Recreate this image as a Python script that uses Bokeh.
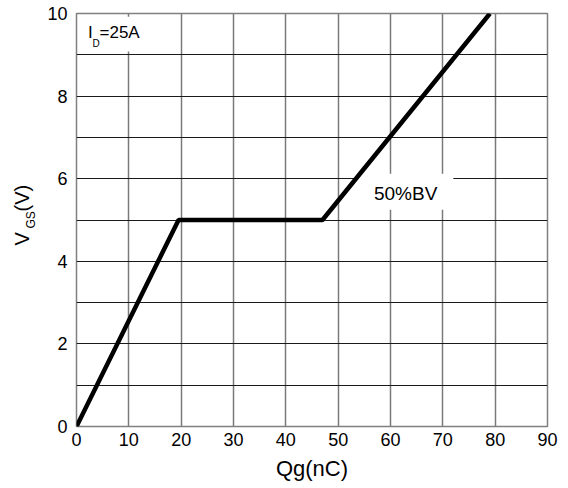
import math
from bokeh.plotting import figure
from bokeh.models import Range1d, FixedTicker, Label
from bokeh.layouts import row
from bokeh.core.properties import value
from bokeh.embed import file_html
from bokeh.resources import INLINE

# data
qg_nc = [0, 19.5, 47, 79]
vgs_v = [0, 5, 5, 10]
x_ticks = [0, 10, 20, 30, 40, 50, 60, 70, 80, 90]
y_ticks = [0, 2, 4, 6, 8, 10]
y_grid = [0, 1, 2, 3, 4, 5, 6, 7, 8, 9, 10]
curve_label = "50%BV"
cond_main = "I"
cond_sub = "D"
cond_rest = "=25A"
ylab_main = "V"
ylab_sub = "GS"
ylab_unit = "(V)"

FONT = "Liberation Sans"
LW = 40   # width of the strip holding the y-axis title
H = 488
TOP, BOT = 13, 62

p = figure(width=560 - LW, height=H, output_backend="svg", toolbar_location=None,
           x_range=Range1d(0, 90), y_range=Range1d(0, 10),
           min_border_left=76 - LW, min_border_right=13, min_border_top=TOP, min_border_bottom=BOT)

p.outline_line_color = "#808080"
p.outline_line_width = 1.5

p.xaxis.ticker = FixedTicker(ticks=x_ticks)
p.yaxis.ticker = FixedTicker(ticks=y_ticks)
p.xgrid.ticker = FixedTicker(ticks=x_ticks)
p.ygrid.ticker = FixedTicker(ticks=y_grid)
p.xgrid.grid_line_color = "#7a7a7a"
p.xgrid.grid_line_width = 1.5
p.ygrid.grid_line_color = "#1a1a1a"
p.ygrid.grid_line_width = 1.2

for ax in (p.xaxis[0], p.yaxis[0]):
    ax.axis_line_color = None
    ax.major_tick_line_color = None
    ax.minor_tick_line_color = None
    ax.major_tick_out = 0
    ax.major_tick_in = 0
    ax.minor_tick_out = 0
    ax.major_label_text_font = FONT
    ax.major_label_text_font_size = "18px"
    ax.major_label_text_color = "black"
p.yaxis.major_label_standoff = 9
p.xaxis.major_label_standoff = 6

p.xaxis.axis_label = "Qg(nC)"
p.xaxis.axis_label_text_font = FONT
p.xaxis.axis_label_text_font_size = "22px"
p.xaxis.axis_label_text_font_style = "normal"
p.xaxis.axis_label_text_color = "black"
p.xaxis.axis_label_standoff = 7

# white boxes behind annotations
p.quad(left=[0.3], right=[16], bottom=[9.08], top=[9.92], fill_color="white", line_color=None)
p.quad(left=[53.3], right=[72], bottom=[5.25], top=[6.12], fill_color="white", line_color=None)

p.line(qg_nc, vgs_v, line_color="black", line_width=4.5)

def lab(x, y, t, size, align="left"):
    p.add_layout(Label(x=x, y=y, text=t, text_font=FONT, text_font_size=size,
                       text_align=align, text_baseline="middle", text_color="black"))

lab(62.9, 5.64, curve_label, "19px", align="center")
lab(2.2, 9.54, cond_main, "17px")
lab(3.05, 9.28, cond_sub, "10px")
lab(4.4, 9.54, cond_rest, "17px")

# strip on the left carrying the rotated y-axis title V_GS(V);
# its frame is aligned with the main frame, so its y range spans the same pixels
s = figure(width=LW, height=H, output_backend="svg", toolbar_location=None,
           x_range=Range1d(0, LW), y_range=Range1d(BOT, H - TOP),
           x_axis_location=None, y_axis_location=None, title=None,
           min_border_left=0, min_border_right=0, min_border_top=TOP, min_border_bottom=BOT)
s.grid.visible = False
s.outline_line_color = None
a = math.pi / 2
s.text(x=[21], y=[H - 245], text=[ylab_main], angle=a, text_font=value(FONT), text_font_size="20px",
       text_align="left", text_baseline="middle", text_color="black")
s.text(x=[30], y=[H - 228], text=[ylab_sub], angle=a, text_font=value(FONT), text_font_size="12px",
       text_align="left", text_baseline="middle", text_color="black")
s.text(x=[21], y=[H - 211], text=[ylab_unit], angle=a, text_font=value(FONT), text_font_size="20px",
       text_align="left", text_baseline="middle", text_color="black")

layout = row(s, p)
open("out.html", "w").write(file_html(layout, INLINE))
